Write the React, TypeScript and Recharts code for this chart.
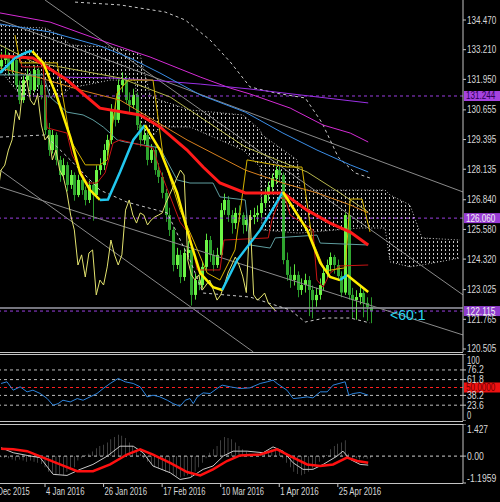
import { Area, Bar, ComposedChart, Line, ReferenceLine, XAxis, YAxis } from "recharts";

type Pt = [number, number];

// daily candles, index 0 = mid Dec 2015, index 101 = early May 2016
const opens = [
  132.5, 132.77, 132.99, 132.35, 132.77, 131.71, 131.07, 131.92, 132.14, 131.5,
  132.35, 131.71, 131.29, 129.8, 128.95, 129.59, 128.53, 127.89, 128.31, 127.47,
  127.89, 127.04, 127.68, 127.25, 126.83, 127.47, 127.04, 128.1, 128.31, 128.95,
  129.38, 130.65, 130.23, 131.71, 131.92, 131.07, 130.86, 131.29, 130.01, 129.38,
  129.59, 128.53, 128.95, 128.1, 127.81, 127.13, 126.19, 125.56, 124.07, 124.5,
  123.56, 124.58, 124.71, 122.8, 123.43, 123.22, 123.99, 125.13, 124.5, 124.07,
  124.5, 126.4, 126.83, 126.19, 125.85, 126.28, 126.19, 125.77, 125.98, 126.11,
  126.19, 126.28, 126.7, 127.04, 127.38, 127.76, 128.1, 127.89, 124.28, 123.65,
  123.43, 123.65, 123.01, 123.22, 123.43, 123.01, 122.58, 122.8, 123.22, 123.73,
  124.07, 124.41, 124.07, 123.6, 122.9, 126.19, 122.8, 122.58, 122.71, 122.88,
  122.46, 122.29,
];
const highs = [
  133.1, 133.25, 133.1, 132.95, 132.85, 131.9, 132.1, 132.4, 132.3, 132.55,
  132.45, 131.9, 131.6, 130.1, 129.8, 129.7, 128.7, 128.6, 128.45, 128.1,
  128.0, 127.9, 127.85, 127.4, 127.65, 127.6, 128.3, 128.6, 129.2, 129.6,
  130.9, 130.95, 131.95, 132.25, 132.1, 131.4, 131.55, 131.4, 130.2, 129.9,
  129.7, 129.2, 129.1, 128.4, 128.0, 127.3, 126.5, 125.7, 124.8, 124.7,
  124.8, 125.1, 124.9, 123.7, 123.8, 124.2, 125.4, 125.3, 124.7, 124.8,
  126.7, 127.1, 127.0, 126.4, 126.5, 126.6, 126.3, 126.2, 126.4, 126.5,
  126.6, 126.9, 127.3, 127.6, 127.95, 128.25, 128.3, 128.0, 124.6, 124.0,
  124.1, 123.8, 123.5, 123.7, 123.6, 123.2, 123.1, 123.5, 124.0, 124.3,
  124.6, 124.5, 124.3, 123.8, 126.3, 126.3, 123.1, 123.0, 123.2, 123.0,
  122.7, 122.7,
];
const lows = [
  132.3, 132.6, 132.1, 132.2, 131.55, 130.9, 130.95, 131.7, 131.3, 131.4,
  131.55, 131.1, 129.6, 128.7, 128.8, 128.3, 127.6, 127.7, 127.2, 127.3,
  126.8, 126.95, 127.05, 126.6, 126.7, 125.95, 126.9, 127.9, 128.1, 128.7,
  129.2, 129.95, 130.1, 131.4, 130.9, 130.5, 130.7, 129.8, 129.1, 129.2,
  128.3, 128.4, 127.9, 127.55, 126.9, 125.9, 125.3, 123.8, 123.9, 123.3,
  123.4, 124.3, 122.35, 122.6, 123.0, 123.1, 123.85, 124.2, 123.8, 123.95,
  124.4, 126.2, 125.9, 125.4, 125.6, 125.9, 125.4, 125.5, 125.7, 125.8,
  125.9, 126.1, 126.5, 126.8, 127.1, 127.5, 127.6, 124.1, 123.4, 123.1,
  123.2, 122.7, 122.8, 122.9, 121.9, 121.8, 122.3, 122.6, 123.0, 123.5,
  123.8, 123.7, 123.4, 122.7, 122.8, 122.6, 121.8, 121.75, 122.4, 121.85,
  121.7, 121.6,
];
const closes = [
  132.77, 132.99, 132.35, 132.77, 131.71, 131.07, 131.92, 132.14, 131.5, 132.35,
  131.71, 131.29, 129.8, 128.95, 129.59, 128.53, 127.89, 128.31, 127.47, 127.89,
  127.04, 127.68, 127.25, 126.83, 127.47, 127.04, 128.1, 128.31, 128.95, 129.38,
  130.65, 130.23, 131.71, 131.92, 131.07, 130.86, 131.29, 130.01, 129.38, 129.59,
  128.53, 128.95, 128.1, 127.81, 127.13, 126.19, 125.56, 124.07, 124.5, 123.56,
  124.58, 124.71, 122.8, 123.43, 123.22, 123.99, 125.13, 124.5, 124.07, 124.5,
  126.4, 126.83, 126.19, 125.85, 126.28, 126.19, 125.77, 125.98, 126.11, 126.19,
  126.28, 126.7, 127.04, 127.38, 127.76, 128.1, 127.89, 124.28, 123.65, 123.43,
  123.65, 123.01, 123.22, 123.43, 123.01, 122.58, 122.8, 123.22, 123.73, 124.07,
  124.41, 124.07, 123.6, 122.9, 126.19, 122.8, 122.58, 122.71, 122.88, 122.46,
  122.29, 122.12,
];
const CHIKOU_SHIFT = 26;

// ichimoku cloud: [index, lower edge, upper edge]
const cloud: [number, number, number][] = [
  [-0.3, 132.35, 134.26], [5.2, 131.29, 134.17], [12, 131.2, 134.13], [16.1, 131.2, 133.83],
  [18.9, 131.58, 133.41], [29.8, 131.92, 133.32], [36.6, 131.92, 133.11], [38, 129.38, 132.98],
  [40.7, 129.38, 131.29], [43.4, 129.93, 131.07], [51.6, 129.93, 130.65], [66.1, 128.95, 130.44],
  [70.8, 128.23, 129.8], [71.3, 125.56, 129.59], [80.9, 125.43, 128.53], [81.7, 125.43, 127.25],
  [98.1, 125.64, 127.25], [104.9, 125.64, 127.25], [106.3, 124.2, 127.04], [111.7, 123.99, 126.62],
  [115, 124.07, 125.22], [125.4, 124.37, 125.13],
];

// moving averages and other overlays, [index, price]
const magentaMa: Pt[] = [[-0.3, 134.77], [13.4, 134.38], [27, 133.62], [40.7, 132.9], [54.4, 132.05], [62.6, 131.58], [68, 131.33], [79, 130.73], [88, 130.01], [95.4, 129.67], [100.3, 129.29]];
const violetMa: Pt[] = [[15.3, 132.05], [29.8, 132.01], [40.7, 131.92], [54.4, 131.75], [68, 131.54], [81.7, 131.29], [100.3, 130.95]];
const blueMa: Pt[] = [[-0.3, 134.3], [13.4, 133.96], [27, 133.37], [35.2, 132.86], [43.4, 132.22], [54.4, 131.29], [66.7, 130.56], [77, 129.67], [86.3, 128.95], [95.4, 128.32], [100.3, 128.02]];
const orangeMa: Pt[] = [[-0.3, 132.43], [10.7, 132.01], [21.6, 131.5], [32.5, 131.07], [50.8, 129.38], [66.7, 128.1], [77, 127.55], [86.3, 127.13], [95.4, 126.62], [100.3, 126.28]];
const oliveMa: Pt[] = [[-0.3, 133.41], [8.7, 132.69], [32.5, 132.01], [46.2, 131.2], [66.7, 129.08], [75.4, 128.53], [83.6, 128.02], [92.6, 127.13], [100.3, 126.32]];
const redMa: Pt[] = [[-0.3, 132.94], [8.7, 132.86], [18, 131.92], [27, 130.73], [38, 130.44], [43.4, 129.93], [50.8, 128.95], [55.2, 128.23], [59.8, 127.55], [66.7, 127.13], [77, 127.13], [83.6, 126.4], [89.9, 125.85], [95.4, 125.47], [100.3, 124.92]];
const fastMa: Pt[] = [[-0.3, 132.22], [3.8, 132.86], [7.1, 133.11], [8.5, 133.15], [11.5, 132.65], [15.3, 131.2], [18.9, 129.5], [21.6, 127.98], [24.3, 127.25], [27, 126.83], [29.2, 126.85], [32.5, 128.02], [36.1, 129.38], [39.3, 130.01], [43.4, 128.95], [48.1, 127.13], [51.6, 125.13], [54.4, 123.73], [57.9, 123.13], [60.4, 123.01], [64.5, 124.28], [70.8, 125.56], [77, 127.17], [83.6, 125.56], [87.2, 124.16], [89.9, 123.56], [92.6, 123.43], [94.5, 123.65], [96.2, 123.43], [100.3, 122.92]];
const tenkan: Pt[] = [[-0.3, 132.86], [5.2, 132.86], [5.7, 132.48], [11.5, 132.48], [12.6, 129.89], [18, 129.67], [19.4, 128.74], [23.5, 127.55], [26.2, 127.55], [28.4, 127.98], [30.6, 129.25], [32.5, 129.38], [41.5, 129.04], [43.4, 128.1], [48.9, 125.89], [51.6, 125.34], [53.6, 123.86], [59.8, 123.86], [60.9, 125.13], [73, 125.22], [74, 125.98], [76.2, 126.91], [77.6, 126.91], [79, 126.19], [85.2, 125.56], [86.3, 123.43], [88, 123.13], [89.9, 123.73], [92.6, 124.03], [100.3, 124.07]];
const kijun: Pt[] = [[-0.3, 132.14], [11.5, 132.14], [13.4, 131.2], [18, 130.56], [22.4, 130.44], [25.1, 130.23], [27.9, 129.93], [29.8, 129.67], [31.7, 129.38], [33.9, 129.29], [43.4, 129.04], [48.1, 127.68], [51.6, 127.55], [57.9, 127.55], [59.8, 126.96], [66.7, 126.83], [68, 124.92], [73.5, 124.79], [74.9, 125.22], [86.3, 125.34], [87.2, 125.0], [100.3, 124.92]];
const goldLine: Pt[] = [[3.8, 133.83], [5.2, 132.65], [15.3, 132.65], [18.9, 129.38], [23, 128.32], [27, 128.32], [29, 128.53], [31.7, 131.37], [34.7, 131.92], [41.5, 131.92], [44.3, 128.65], [48.9, 126.4], [52.5, 125.13], [56.3, 123.73], [59.8, 123.43], [63.9, 124.71], [67.2, 128.53], [78.1, 128.23], [82.2, 128.23], [85, 125.13], [88.5, 123.82], [94, 123.95], [95.4, 126.87], [98.6, 126.87], [100.8, 125.47]];
const bandUpper: Pt[] = [[20.2, 135.23], [32.5, 135.11], [44.8, 134.81], [50.3, 134.47], [57.1, 133.62], [62.6, 132.69], [68, 131.63], [74.9, 131.37], [83.1, 131.16], [87.7, 130.1], [92.1, 128.65], [96.7, 127.98], [100.8, 127.76]];
const bandLower: Pt[] = [[-0.3, 129.5], [12, 129.59], [18.9, 128.53], [27, 127.25], [34.4, 126.74], [45.4, 126.28], [51.6, 124.28], [55.2, 122.88], [68, 122.71], [79, 122.16], [83.1, 121.65], [88.5, 121.82], [95.4, 121.82], [100.8, 121.61]];
const trendLines: Pt[][] = [
  [[-0.3, 134.47], [126.2, 127.17]],
  [[12, 135.32], [126.2, 122.8]],
  [[-0.3, 127.38], [126.2, 121.1]],
  [[-0.3, 128.1], [68.9, 120.38]],
];

const levels = { resistance: 131.244, pivot: 126.06, alert: 122.115, bid: 122.24 };

// oscillators
const rsi: Pt[] = [[0, 56], [1.6, 58.5], [3.3, 46], [5.2, 51], [7.1, 43.5], [8.7, 46], [10.7, 41], [12.6, 33.5], [14.2, 23.5], [15.6, 26], [16.9, 31], [18.9, 28.5], [20.8, 33.5], [22.4, 31], [24.3, 36], [26.2, 41], [27.9, 48.5], [29.8, 56], [32, 63.5], [33.9, 58.5], [36.1, 56], [38, 51], [39.9, 36], [41.5, 38.5], [43.4, 36], [45.4, 31], [47, 26], [48.9, 22], [50.3, 31], [51.6, 33.5], [52.5, 26], [53.6, 36], [55.2, 42], [57.1, 41], [59, 48.5], [60.4, 53.5], [62.6, 51], [65.3, 48.5], [68, 49.5], [70.8, 56], [72.7, 58.5], [74.3, 61], [75.4, 56], [78.1, 46], [79.8, 33.5], [81.7, 34.5], [83.6, 36], [85.2, 34.5], [87.2, 43.5], [89.1, 43.5], [90.7, 53.5], [94, 58.5], [95, 38.5], [96.2, 41], [98.1, 42.5], [100.3, 38.5]];
const rsiLevels = [23.6, 38.2, 61.8, 76.2];
const macdHist = [
  -0.05, -0.08, -0.1, -0.15, -0.2, -0.15, -0.2, -0.25, -0.2, -0.25,
  -0.3, -0.35, -0.5, -0.7, -0.8, -0.85, -0.8, -0.85, -0.7, -0.6,
  -0.5, -0.2, -0.1, 0.05, 0.1, 0.2, 0.35, 0.45, 0.5, 0.6,
  0.75, 0.85, 0.95, 0.9, 0.8, 0.6, 0.45, 0.25, 0.1, -0.1,
  -0.25, -0.35, -0.5, -0.55, -0.6, -0.7, -0.75, -0.85, -0.9, -0.95,
  -0.9, -0.85, -0.95, -0.7, -0.5, -0.3, -0.1, 0.15, 0.3, 0.45,
  0.7, 0.85, 0.8, 0.75, 0.6, 0.45, 0.3, 0.2, 0.1, 0.08,
  0.1, 0.15, 0.2, 0.25, 0.3, 0.3, 0.25, -0.1, -0.3, -0.5,
  -0.7, -0.8, -0.85, -0.8, -0.7, -0.55, -0.4, -0.25, -0.1, 0.05,
  0.3, 0.45, 0.55, 0.6, 0.7, 0.1, -0.1, -0.1, -0.15, -0.1,
  -0.12, -0.1,
];
const macdMain: Pt[] = [[0, 0.37], [3.3, 0.15], [7.1, 0.03], [10.7, -0.07], [14.2, -0.81], [18, -0.86], [21.6, -0.59], [25.1, -0.37], [29, 0], [32.5, 0.44], [36.1, 0.44], [38.8, 0.15], [41.5, -0.44], [46.2, -0.74], [48.9, -1.04], [51.6, -0.96], [55.2, -0.59], [57.9, -0.44], [60.7, 0], [63.4, 0.22], [67.2, 0.22], [71.6, 0.15], [74.3, 0.41], [77, 0.22], [79.8, -0.3], [82.5, -0.59], [85.2, -0.59], [88, -0.37], [91.8, 0], [93.4, 0.22], [95.4, -0.15], [98.1, -0.37], [100.3, -0.4]];
const macdSignal: Pt[] = [[0, 0.33], [3.3, 0.3], [7.1, 0.22], [11.5, -0.07], [16.1, -0.37], [20.8, -0.67], [25.1, -0.67], [29.8, -0.37], [34.4, 0.07], [38, 0.3], [41.5, 0.07], [46.2, -0.3], [50.8, -0.71], [54.4, -0.86], [57.9, -0.59], [61.7, -0.22], [65.3, 0.03], [70.8, 0.07], [75.4, 0.3], [79, 0], [83.6, -0.37], [87.2, -0.44], [90.7, -0.37], [94.5, -0.07], [97.3, -0.22], [100.3, -0.3]];

// axis ticks
const priceTicks = [134.47, 133.21, 131.95, 130.655, 129.395, 128.135, 126.84, 125.58, 124.32, 123.025, 121.765, 120.505];
const rsiTicks = [0, 23.6, 38.2, 61.8, 76.2, 100];
const macdTicks = [-1.1959, 0, 1.427];
const macdTickLabels = ["-1.1959", "0.00", "1.427"];
const dateTicks = [-4, 12, 28, 44, 60, 76, 92];
const dateLabels = ["11 Dec 2015", "4 Jan 2016", "26 Jan 2016", "17 Feb 2016", "10 Mar 2016", "1 Apr 2016", "25 Apr 2016"];

const X_DOMAIN: [number, number] = [-0.3, 126.2];
const PRICE_DOMAIN: [number, number] = [120.377, 135.319];
const AXIS = "#c4c4c4";
const TEXT = "#d8d8d8";
const FONT = "'Liberation Sans', Arial, sans-serif";

const rows = (pts: Pt[]) => pts.map(([i, v]) => ({ i, v }));

const candleRows = closes.map((c, i) => ({ i, o: opens[i], h: highs[i], l: lows[i], c, range: [lows[i], highs[i]] }));
const chikouRows = closes.map((c, i) => ({ i: i - CHIKOU_SHIFT, v: c }));
const cloudRows = cloud.map(([i, lo, hi]) => ({ i, band: [lo, hi] }));
const histRows = macdHist.map((h, i) => ({ i, h }));

// split the fast average into rising (cyan) and falling (yellow) runs
const fastRuns: { up: boolean; pts: Pt[] }[] = [];
for (let k = 0; k < fastMa.length - 1; k++) {
  const up = fastMa[k + 1][1] > fastMa[k][1];
  const last = fastRuns[fastRuns.length - 1];
  if (last && last.up === up) last.pts.push(fastMa[k + 1]);
  else fastRuns.push({ up, pts: [fastMa[k], fastMa[k + 1]] });
}

function Candle(props: any) {
  const { x, y, width, height, payload } = props;
  if (!payload || x == null) return null;
  const top = height < 0 ? y + height : y;
  const h = Math.abs(height);
  const span = payload.h - payload.l || 1;
  const yOf = (p: number) => top + ((payload.h - p) / span) * h;
  const bull = payload.c >= payload.o;
  const b0 = yOf(Math.max(payload.o, payload.c));
  const b1 = yOf(Math.min(payload.o, payload.c));
  const cx = Math.round(x + (width || 0) / 2) + 0.5;
  return (
    <g>
      <line x1={cx} x2={cx} y1={top} y2={top + h} stroke={bull ? "#5ae23c" : "#2a9a2a"} strokeWidth={1} />
      <rect x={cx - 1.5} y={b0} width={3} height={Math.max(1.5, b1 - b0)} fill={bull ? "#6cf546" : "#2fa52f"} />
    </g>
  );
}

function sideTick(fmt: (v: number) => string, nudge?: (v: number) => number) {
  return (p: any) => {
    const text = fmt(p.payload.value);
    const dy = nudge ? nudge(p.payload.value) : 0;
    return (
      <text x={p.x - 1} y={p.y + 3.5 + dy} fill={TEXT} fontSize={10} fontFamily={FONT} textAnchor="start"
        textLength={text.length * 4.2} lengthAdjust="spacingAndGlyphs">
        {text}
      </text>
    );
  };
}

function DateTick(p: any) {
  const text = dateLabels[dateTicks.indexOf(p.payload.value)] ?? "";
  return (
    <text x={p.x + 1} y={p.y + 5.5} fill={TEXT} fontSize={10} fontFamily={FONT} textAnchor="start"
      textLength={text.length * 3.85} lengthAdjust="spacingAndGlyphs">
      {text}
    </text>
  );
}

function tag(text: string, bg: string, fg: string) {
  return (p: any) => {
    const vb = p.viewBox || {};
    const x = (vb.x ?? 0) + (vb.width ?? 463);
    const y = vb.y ?? 0;
    return (
      <g>
        <rect x={x + 1} y={y - 5} width={36} height={10} fill={bg} />
        <text x={x + 3} y={y + 3.5} fill={fg} fontSize={10} fontFamily={FONT}
          textLength={text.length * 4.2} lengthAdjust="spacingAndGlyphs">
          {text}
        </text>
      </g>
    );
  };
}

const thin = (pts: Pt[], color: string, key: string, extra: any = {}) => (
  <Line key={key} data={rows(pts)} dataKey="v" type="linear" stroke={color} strokeWidth={1} dot={false}
    activeDot={false} isAnimationActive={false} {...extra} />
);

const hline = (top: number) => (
  <div style={{ position: "absolute", left: 0, top, width: 463, height: 1, background: AXIS }} />
);

export default function App() {
  const xAxis = <XAxis type="number" dataKey="i" domain={X_DOMAIN} allowDataOverflow hide />;
  return (
    <div style={{ position: "absolute", left: 0, top: 0, width: 500, height: 502, background: "#000", overflow: "hidden" }}>
      <div style={{ position: "absolute", left: 0, top: 0 }}>
        <ComposedChart width={500} height={352} data={candleRows} margin={{ top: 0, right: 0, bottom: 0, left: 0 }}>
          <defs>
            <pattern id="kumo" width="4" height="4" patternUnits="userSpaceOnUse">
              <rect x="1" y="1" width="1" height="2" fill="#c8c8c8" />
            </pattern>
          </defs>
          {xAxis}
          <YAxis orientation="right" width={37} domain={PRICE_DOMAIN} allowDataOverflow ticks={priceTicks} interval={0}
            tickSize={3} axisLine={{ stroke: AXIS }} tickLine={{ stroke: AXIS }} tick={sideTick((v) => v.toFixed(3))} />
          <Area data={cloudRows} dataKey="band" type="linear" fill="url(#kumo)" fillOpacity={1} stroke="#bcbcbc"
            strokeDasharray="1 2" strokeWidth={1} isAnimationActive={false} dot={false} activeDot={false} />
          <ReferenceLine y={levels.resistance} stroke="#9a3ee0" strokeDasharray="3 3" label={tag("131.244", "#a642e0", "#2a0050")} />
          <ReferenceLine y={levels.pivot} stroke="#9a3ee0" strokeDasharray="3 3" label={tag("126.060", "#9a3cd6", "#f2f2f2")} />
          <ReferenceLine y={levels.bid} stroke="#9c9ca8" strokeWidth={1.5} />
          <ReferenceLine y={levels.alert} stroke="#9a3ee0" strokeDasharray="3 3" label={tag("122.115", "#8e3ccc", "#f2f2f2")} />
          <Bar dataKey="range" barSize={3} shape={(p: any) => <Candle {...p} />} isAnimationActive={false} />
          {trendLines.map((t, k) => thin(t, "#8a8a8a", "trend" + k))}
          {thin(bandUpper, "#c8c8c8", "bbU", { strokeDasharray: "3 3" })}
          {thin(bandLower, "#c8c8c8", "bbL", { strokeDasharray: "3 3" })}
          {thin(magentaMa, "#d52bd5", "mag")}
          {thin(violetMa, "#9b30e6", "vio")}
          {thin(blueMa, "#3a8ee8", "blue")}
          {thin(oliveMa, "#b4b44c", "olive")}
          {thin(orangeMa, "#d8801e", "orange")}
          {thin(kijun, "#5f9ea0", "kijun")}
          {thin(tenkan, "#c81414", "tenkan")}
          {thin(goldLine, "#d6b400", "gold")}
          <Line data={chikouRows} dataKey="v" type="linear" stroke="#e2e26e" strokeWidth={1} dot={false} activeDot={false} isAnimationActive={false} />
          {thin(redMa, "#ff1a1a", "red", { strokeWidth: 3 })}
          {fastRuns.map((r, k) => thin(r.pts, r.up ? "#22c8f0" : "#ffee00", "fast" + k, { strokeWidth: 2.5 }))}
        </ComposedChart>
      </div>
      <div style={{ position: "absolute", left: 390, top: 308, color: "#2ad6f2", fontFamily: FONT, fontSize: 14, lineHeight: "14px" }}>
        {"<60:1"}
      </div>

      <div style={{ position: "absolute", left: 0, top: 354 }}>
        <ComposedChart width={500} height={67} margin={{ top: 0, right: 0, bottom: 0, left: 0 }}>
          {xAxis}
          <YAxis orientation="right" width={37} domain={[0, 100]} allowDataOverflow ticks={rsiTicks} interval={0}
            tickSize={3} axisLine={{ stroke: AXIS }} tickLine={{ stroke: AXIS }}
            tick={sideTick((v) => String(v), (v) => (v === 100 ? 6 : v === 0 ? -6 : 0))} />
          {rsiLevels.map((l) => (
            <ReferenceLine key={l} y={l} stroke="#bdbdbd" strokeDasharray="3 3" />
          ))}
          <ReferenceLine y={50} stroke="#ff2020" strokeDasharray="3 3" label={tag("50.0000", "#ee1111", "#700000")} />
          {thin(rsi, "#2e84dc", "rsi")}
        </ComposedChart>
      </div>

      <div style={{ position: "absolute", left: 0, top: 424 }}>
        <ComposedChart width={500} height={78} data={histRows} margin={{ top: 0, right: 0, bottom: 0, left: 0 }}>
          <XAxis type="number" dataKey="i" domain={X_DOMAIN} allowDataOverflow height={19} ticks={dateTicks} interval={0}
            axisLine={false} tickSize={4} tickLine={{ stroke: AXIS }} tick={(p: any) => <DateTick {...p} />} />
          <YAxis orientation="right" width={37} domain={[-1.1959, 1.427]} allowDataOverflow ticks={macdTicks} interval={0}
            tickSize={3} axisLine={{ stroke: AXIS }} tickLine={{ stroke: AXIS }}
            tick={sideTick((v) => macdTickLabels[macdTicks.indexOf(v)] ?? "", (v) => (v > 1 ? 5 : v < -1 ? -5 : 0))} />
          <ReferenceLine y={0} stroke="#d0d0d0" strokeDasharray="3 3" />
          <Bar dataKey="h" barSize={1} fill="#bdbdbd" isAnimationActive={false} />
          {thin(macdMain, "#c8c8c8", "macd")}
          {thin(macdSignal, "#ff1010", "signal", { strokeWidth: 2.5 })}
        </ComposedChart>
      </div>

      {hline(352)}
      {hline(354)}
      {hline(421)}
      {hline(424)}
      {hline(483)}
    </div>
  );
}
